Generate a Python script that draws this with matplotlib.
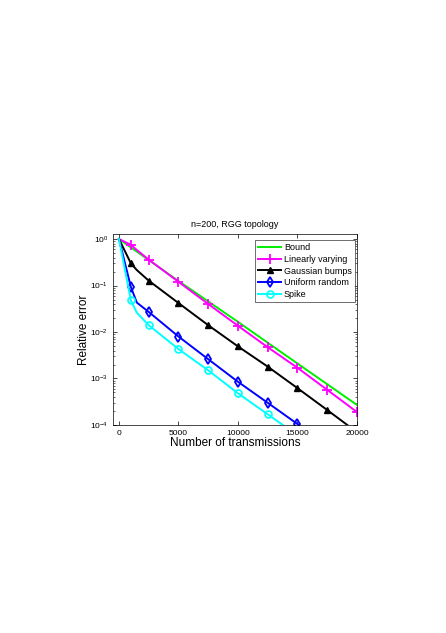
import matplotlib as mpl
mpl.use("Agg")
from matplotlib import pyplot as plt

plt.rcParams["font.family"] = ["Liberation Sans", "DejaVu Sans"]
plt.rcParams["mathtext.fontset"] = "custom"
plt.rcParams["mathtext.rm"] = "Liberation Sans"

TITLE = "n=200, RGG topology"
XLABEL = "Number of transmissions"
YLABEL = "Relative error"

# x positions (number of transmissions)
X_BOUND = [0, 5000, 10000, 15000, 20000]
X_CURVE = [0, 1000, 1500, 2500, 5000, 7500, 10000, 12500, 15000, 17500, 20000]

bound = [1.0, 0.125, 0.0165, 0.0021, 0.00027]
linear = [1.0, 0.75, 0.58, 0.36, 0.12, 0.040, 0.0136, 0.0047, 0.0017, 0.00057, 0.00019]
gauss = [1.0, 0.30, 0.215, 0.127, 0.042, 0.014, 0.0049, 0.0018, 0.00062, 0.00021, 0.00007]
uniform = [1.0, 0.093, 0.043, 0.027, 0.0080, 0.0026, 0.00085, 0.00030, 0.000105, 0.000035, 0.000012]
spike = [1.0, 0.048, 0.026, 0.014, 0.0043, 0.0015, 0.00048, 0.00017, 0.00006, 0.00002, 0.000007]

# markers drawn at 1000, 2500, 5000, ... (not at 0 or 1500)
MARK = list(range(1, len(X_CURVE)))
MARK.remove(2)


def main():
    fig = plt.figure(figsize=(4.46, 6.33), dpi=100)
    ax = fig.add_axes([0.2534, 0.3286, 0.547, 0.3017])
    lw = 1.4
    ax.plot(X_BOUND, bound, color="#00ee00", lw=lw, label="Bound")
    ax.plot(X_CURVE, linear, color="#ff00ff", lw=lw, marker="+", ms=7, mew=1.3,
            markevery=MARK, label="Linearly varying")
    ax.plot(X_CURVE, gauss, color="black", lw=lw, marker="^", ms=5,
            markevery=MARK, label="Gaussian bumps")
    ax.plot(X_CURVE, uniform, color="#0000ff", lw=lw, marker="d", ms=5.5,
            mfc="none", mew=1.3, markevery=MARK, label="Uniform random")
    ax.plot(X_CURVE, spike, color="#00ffff", lw=lw, marker="o", ms=5,
            mfc="none", mew=1.2, markevery=MARK, label="Spike")

    ax.set_yscale("log")
    ax.set_xlim(-500, 20000)
    ax.set_ylim(1e-4, 1.28)
    ax.set_xticks([0, 5000, 10000, 15000, 20000])
    ax.set_yticks([1e-4, 1e-3, 1e-2, 1e-1, 1])
    ax.tick_params(which="both", direction="in", top=True, right=True, labelsize=6)
    ax.tick_params(which="major", length=3, width=0.5)
    ax.tick_params(which="minor", length=1.5, width=0.4)
    for s in ax.spines.values():
        s.set_linewidth(0.5)
    ax.set_title(TITLE, fontsize=6.5, pad=5)
    ax.set_xlabel(XLABEL, fontsize=8.5, labelpad=0)
    ax.set_ylabel(YLABEL, fontsize=8.5, labelpad=0)
    leg = ax.legend(loc="upper right", bbox_to_anchor=(0.992, 0.969),
                    borderaxespad=0, fontsize=6.5, frameon=True, fancybox=False,
                    edgecolor="black", handlelength=2.6, labelspacing=0.3,
                    borderpad=0.35, handletextpad=0.3)
    leg.get_frame().set_linewidth(0.5)
    fig.savefig("out.png", dpi=100)


if __name__ == "__main__":
    main()
